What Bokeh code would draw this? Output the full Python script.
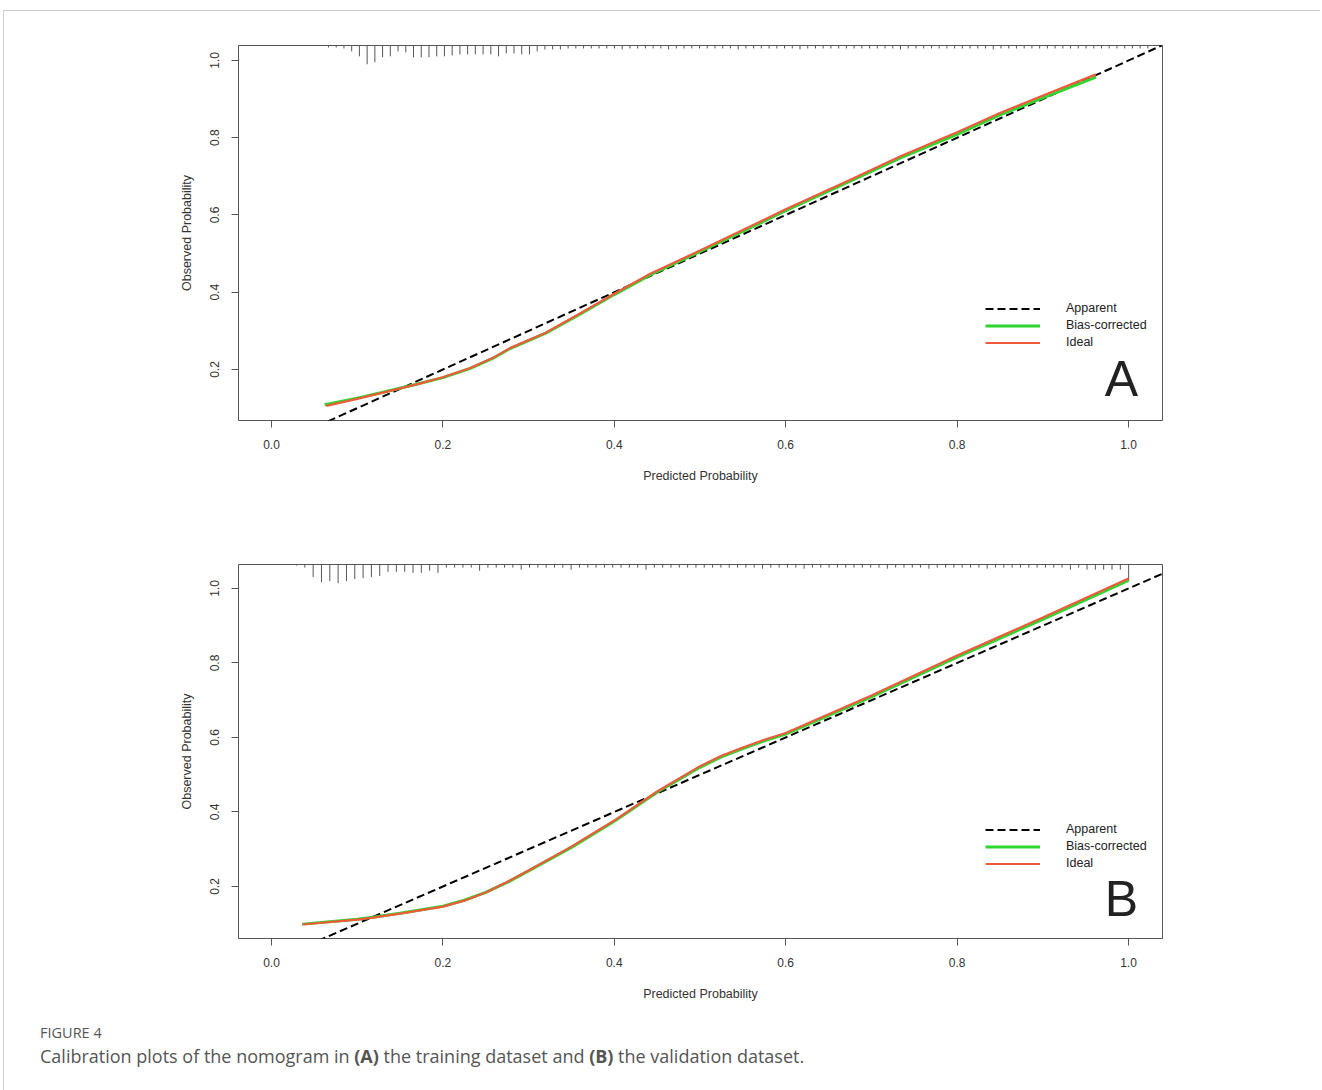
import numpy as np
from bokeh.plotting import figure
from bokeh.models import (Range1d, FixedTicker, PrintfTickFormatter, Legend,
                          LegendItem, Label, Div)
from bokeh.layouts import column
from bokeh.embed import file_html
from bokeh.resources import INLINE

# ---------------- data ----------------
x_ticks = [0.0, 0.2, 0.4, 0.6, 0.8, 1.0]
y_ticks = [0.2, 0.4, 0.6, 0.8, 1.0]

# Panel A (training)
a_ideal_x = [0.064, 0.10, 0.13, 0.168, 0.20, 0.232, 0.26, 0.279, 0.32, 0.36, 0.40,
             0.442, 0.50, 0.559, 0.60, 0.676, 0.734, 0.80, 0.85, 0.909, 0.962]
a_ideal_y = [0.106, 0.124, 0.140, 0.161, 0.180, 0.204, 0.232, 0.256, 0.295, 0.345, 0.396,
             0.448, 0.508, 0.571, 0.615, 0.692, 0.752, 0.814, 0.864, 0.917, 0.964]
a_bias_x = [0.062, 0.10, 0.13, 0.168, 0.20, 0.232, 0.26, 0.279, 0.32, 0.36, 0.40,
            0.442, 0.50, 0.559, 0.60, 0.676, 0.734, 0.80, 0.85, 0.909, 0.962]
a_bias_y = [0.109, 0.126, 0.141, 0.161, 0.179, 0.203, 0.231, 0.255, 0.294, 0.343, 0.394,
            0.445, 0.505, 0.567, 0.611, 0.688, 0.748, 0.809, 0.859, 0.911, 0.957]
a_rug_start = 0.0665
a_rug_step = 0.00902
a_rug_counts = [2, 2, 3, 6, 11, 19, 17, 12, 11, 6, 7, 12, 12, 12, 11, 11, 10, 9, 9, 9,
                9, 9, 11, 8, 8, 9, 9, 6, 4, 4, 4, 3, 3, 3, 3, 3, 3, 3, 4, 3, 3,
                3, 3, 3, 4, 3, 3, 3, 3, 3, 3, 3, 3, 4, 3, 3, 3, 3, 3, 3, 3, 4, 3,
                3, 3, 3, 3, 3, 3, 3, 3, 3, 3, 3, 4, 3, 3, 3, 3, 3, 3, 3, 3, 3, 3,
                3, 4, 3, 3, 3, 3, 3, 3, 3, 3, 3, 3, 3, 3, 3, 3, 3, 3, 3, 3, 3, 3]
a_xlim = [-0.0385, 1.0397]
a_ylim = [0.068, 1.0388]

# Panel B (validation)
b_ideal_x = [0.036, 0.10, 0.12, 0.15, 0.20, 0.225, 0.25, 0.275, 0.30, 0.35, 0.40, 0.45,
             0.50, 0.525, 0.55, 0.575, 0.60, 0.70, 0.80, 0.90, 1.00]
b_ideal_y = [0.098, 0.111, 0.117, 0.127, 0.146, 0.162, 0.184, 0.212, 0.243, 0.307, 0.377,
             0.455, 0.523, 0.551, 0.573, 0.594, 0.612, 0.713, 0.820, 0.922, 1.027]
b_bias_x = [0.036, 0.10, 0.12, 0.15, 0.20, 0.225, 0.25, 0.275, 0.30, 0.35, 0.40, 0.45,
            0.50, 0.525, 0.55, 0.575, 0.60, 0.70, 0.80, 0.90, 1.00]
b_bias_y = [0.099, 0.112, 0.118, 0.128, 0.147, 0.163, 0.184, 0.211, 0.242, 0.305, 0.375,
            0.453, 0.520, 0.548, 0.570, 0.591, 0.609, 0.709, 0.816, 0.917, 1.022]
b_rug_start = 0.0292
b_rug_step = 0.00971
b_rug_counts = [1, 3, 12, 17, 16, 18, 16, 14, 13, 12, 11, 7, 7, 7, 8, 8, 6, 8, 3, 3,
                3, 3, 6, 3, 3, 3, 3, 5, 3, 3, 3, 3, 3, 5, 3, 3, 3, 3, 3, 3,
                3, 3, 5, 3, 3, 3, 3, 3, 3, 3, 3, 3, 3, 3, 3, 3, 4, 3, 3, 3,
                3, 4, 3, 3, 3, 3, 3, 3, 3, 3, 3, 4, 3, 3, 3, 3, 4, 3, 3, 3,
                3, 3, 3, 4, 3, 3, 3, 3, 3, 3, 3, 3, 3, 5, 3, 5, 5, 5, 5, 5, 16]
b_xlim = [-0.0385, 1.0397]
b_ylim = [0.0604, 1.0644]

legend_labels = ["Apparent", "Bias-corrected", "Ideal"]

# ---------------- styling ----------------
FONT = "Liberation Sans"
AX_COL = "#555555"
TXT_COL = "#333333"
GREEN = "#2FD62F"
RED = "#EE5B3B"


def panel(letter, xlim, ylim, ix, iy, bx, by, rug_start, rug_step, rug_counts,
          height, top, bottom, leg_y, letter_y):
    p = figure(width=1306, height=height, output_backend="svg", toolbar_location=None,
               x_range=Range1d(*xlim), y_range=Range1d(*ylim),
               min_border_left=234, min_border_right=148,
               min_border_top=top, min_border_bottom=bottom)
    p.grid.visible = False
    p.background_fill_color = "white"
    p.border_fill_color = "white"
    p.outline_line_color = AX_COL
    p.outline_line_width = 1
    p.outline_line_alpha = 1

    for ax in (p.xaxis[0], p.yaxis[0]):
        ax.axis_line_color = None
        ax.major_tick_line_color = AX_COL
        ax.major_tick_out = 7
        ax.major_tick_in = 0
        ax.minor_tick_line_color = None
        ax.major_label_text_font = FONT
        ax.major_label_text_font_size = "12px"
        ax.major_label_text_color = TXT_COL
        ax.axis_label_text_font = FONT
        ax.axis_label_text_font_size = "12.5px"
        ax.axis_label_text_font_style = "normal"
        ax.axis_label_text_color = TXT_COL
        ax.formatter = PrintfTickFormatter(format="%.1f")
    p.xaxis[0].ticker = FixedTicker(ticks=x_ticks)
    p.yaxis[0].ticker = FixedTicker(ticks=y_ticks)
    p.xaxis[0].axis_label = "Predicted Probability"
    p.yaxis[0].axis_label = "Observed Probability"
    p.xaxis[0].major_label_standoff = 12
    p.xaxis[0].axis_label_standoff = 17
    p.yaxis[0].major_label_standoff = 12
    p.yaxis[0].major_label_orientation = "parallel"
    p.yaxis[0].axis_label_standoff = 14

    # rug of predicted probabilities (spikes hanging from the top border)
    counts = np.array(rug_counts, dtype=float)
    rx = rug_start + rug_step * np.arange(len(counts))
    span = ylim[1] - ylim[0]
    y_top = np.full(len(counts), ylim[1])
    y_bot = ylim[1] - 0.05 * span * counts / counts.max()
    p.segment(x0=rx, y0=y_top, x1=rx, y1=y_bot, line_color="#555555", line_width=1)

    # reference diagonal drawn across the full range
    diag = [xlim[0] - 0.1, xlim[1] + 0.1]
    r_dash = p.line(diag, diag, line_color="black", line_width=2, line_dash="8 4")
    r_green = p.line(bx, by, line_color=GREEN, line_width=3)
    r_red = p.line(ix, iy, line_color=RED, line_width=2.2)

    legend = Legend(items=[LegendItem(label=legend_labels[0], renderers=[r_dash]),
                           LegendItem(label=legend_labels[1], renderers=[r_green]),
                           LegendItem(label=legend_labels[2], renderers=[r_red])],
                    location=(747, leg_y), orientation="vertical",
                    glyph_width=55, glyph_height=17, label_height=17,
                    label_standoff=26, spacing=0, padding=0, margin=0,
                    border_line_color=None, background_fill_alpha=0,
                    label_text_font=FONT, label_text_font_size="12.5px",
                    label_text_color="#222222")
    p.add_layout(legend)

    p.add_layout(Label(x=883, y=letter_y, x_units="screen", y_units="screen",
                       text=letter, text_font=FONT, text_font_size="50px",
                       text_color="#222222", text_align="center",
                       text_baseline="alphabetic"))
    return p


pa = panel("A", a_xlim, a_ylim, a_ideal_x, a_ideal_y, a_bias_x, a_bias_y,
           a_rug_start, a_rug_step, a_rug_counts,
           height=514, top=34, bottom=105, leg_y=69.5, letter_y=42)
pb = panel("B", b_xlim, b_ylim, b_ideal_x, b_ideal_y, b_bias_x, b_bias_y,
           b_rug_start, b_rug_step, b_rug_counts,
           height=480, top=39, bottom=67, leg_y=66.5, letter_y=40)

caption = Div(width=1306, height=77, text=(
    '<div style="padding:13px 0 0 31px;font-family:\'Open Sans\', sans-serif;color:#555555;">'
    '<div style="font-size:14.5px;line-height:20px;">FIGURE 4</div>'
    '<div style="font-size:18px;line-height:26px;">Calibration plots of the nomogram in '
    '<b>(A)</b> the training dataset and <b>(B)</b> the validation dataset.</div></div>'))

layout = column(pa, pb, caption, spacing=0,
                styles={"border-top": "1px solid #cfcfcf",
                        "border-left": "1px solid #cfcfcf",
                        "margin-top": "10px", "margin-left": "3px"})

open("out.html", "w").write(file_html(layout, INLINE))
